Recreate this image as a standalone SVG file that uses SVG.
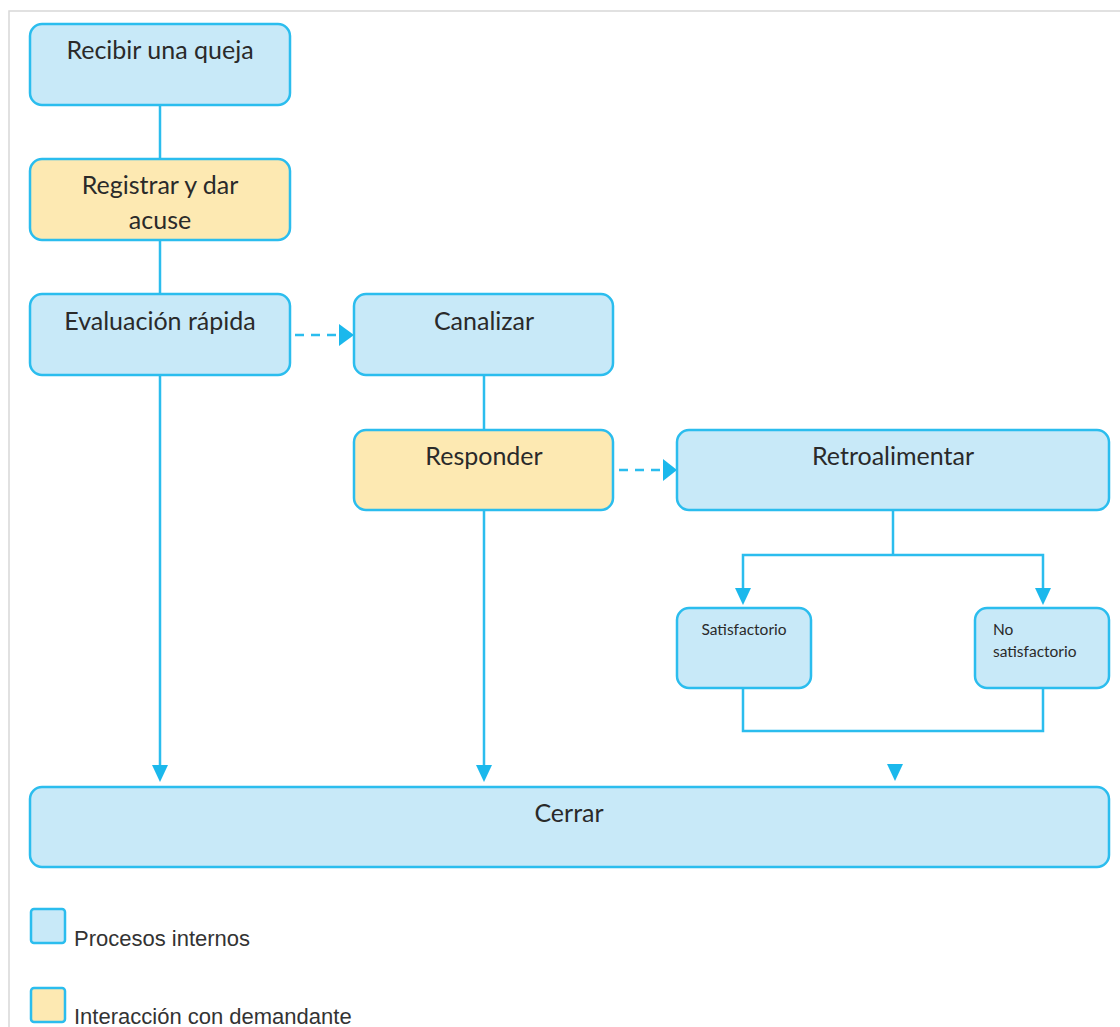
<svg xmlns="http://www.w3.org/2000/svg" width="1120" height="1027" viewBox="0 0 1120 1027">
<style>
.n{stroke:#2bbdee;stroke-width:2.5}
.b{fill:#c8e9f8}
.y{fill:#fde9b2}
.t{font-family:Lato,"Noto Sans","Liberation Sans",sans-serif;font-size:25px;fill:#2a2a2a;text-anchor:middle}
.s{font-family:Lato,"Noto Sans","Liberation Sans",sans-serif;font-size:15.5px;fill:#2a2a2a}
.l{font-family:"Liberation Sans",Arial,sans-serif;font-size:22px;fill:#333}
.c{stroke:#2bbdee;stroke-width:2.5;fill:none}
.d{stroke:#2bbdee;stroke-width:2.5;fill:none;stroke-dasharray:9 7}
.a{fill:#1bb8ec}
</style>
<rect x="9" y="11" width="1120" height="1030" fill="#fff" stroke="#d8d8d8" stroke-width="1.5"/>
<g id="connectors">
<line class="c" x1="160" y1="105" x2="160" y2="159"/>
<line class="c" x1="160" y1="240" x2="160" y2="294"/>
<line class="c" x1="160" y1="375" x2="160" y2="768"/>
<polygon class="a" points="152,765 168,765 160,782"/>
<line class="c" x1="484" y1="375" x2="484" y2="430"/>
<line class="c" x1="484" y1="510" x2="484" y2="768"/>
<polygon class="a" points="476,765 492,765 484,782"/>
<line class="d" x1="295" y1="335" x2="340" y2="335"/>
<polygon class="a" points="339,324 354,335 339,346"/>
<line class="d" x1="619" y1="470" x2="664" y2="470"/>
<polygon class="a" points="663,459 677,470 663,481"/>
<polyline class="c" points="893,510 893,555"/>
<polyline class="c" points="743,592 743,555 1043,555 1043,592"/>
<polygon class="a" points="735,588 751,588 743,605"/>
<polygon class="a" points="1035,588 1051,588 1043,605"/>
<polyline class="c" points="743,688 743,731 1043,731 1043,688"/>
<polygon class="a" points="887,764 903,764 895,781"/>
</g>
<g id="recibir"><rect class="n b" x="30" y="24" width="260" height="81" rx="12"/><text class="t" x="160" y="59">Recibir una queja</text></g>
<g id="registrar"><rect class="n y" x="30" y="159" width="260" height="81" rx="12"/><text class="t" x="160" y="194">Registrar y dar</text><text class="t" x="160" y="229">acuse</text></g>
<g id="evaluacion"><rect class="n b" x="30" y="294" width="260" height="81" rx="12"/><text class="t" x="160" y="330">Evaluación rápida</text></g>
<g id="canalizar"><rect class="n b" x="354" y="294" width="259" height="81" rx="12"/><text class="t" x="484" y="330">Canalizar</text></g>
<g id="responder"><rect class="n y" x="354" y="430" width="259" height="80" rx="12"/><text class="t" x="484" y="465">Responder</text></g>
<g id="retroalimentar"><rect class="n b" x="677" y="430" width="432" height="80" rx="12"/><text class="t" x="893" y="465">Retroalimentar</text></g>
<g id="satisfactorio"><rect class="n b" x="677" y="608" width="134" height="80" rx="12"/><text class="s" x="744" y="635" text-anchor="middle">Satisfactorio</text></g>
<g id="nosatisfactorio"><rect class="n b" x="975" y="608" width="134" height="80" rx="12"/><text class="s" x="993" y="635">No</text><text class="s" x="993" y="657">satisfactorio</text></g>
<g id="cerrar"><rect class="n b" x="30" y="787" width="1079" height="80" rx="12"/><text class="t" x="569" y="822">Cerrar</text></g>
<g id="legend">
<rect class="n b" x="31" y="909" width="34" height="34" rx="3"/>
<text class="l" x="74" y="946">Procesos internos</text>
<rect class="n y" x="31" y="988" width="34" height="34" rx="3"/>
<text class="l" x="74" y="1024">Interacción con demandante</text>
</g>
</svg>
